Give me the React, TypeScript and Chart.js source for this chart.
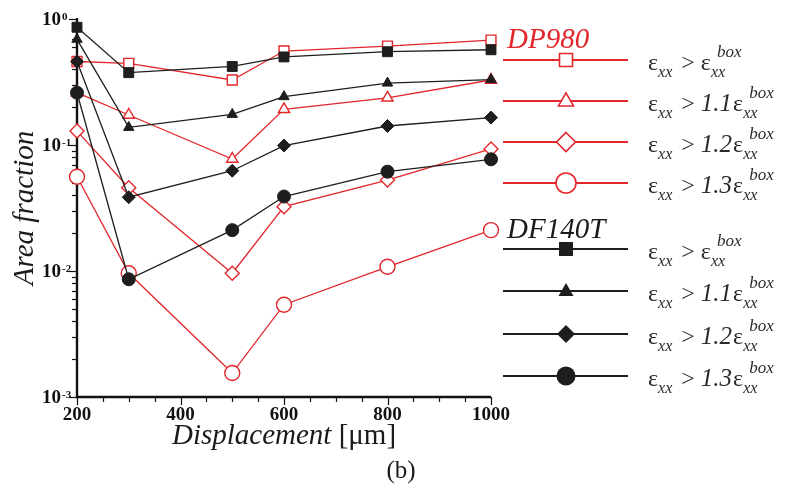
import React, { useEffect, useRef } from 'react';
import { Chart, registerables } from 'chart.js';

Chart.register(...registerables);

const displacement = [200, 300, 500, 600, 800, 1000];
const df140tGt10 = [0.86, 0.375, 0.42, 0.5, 0.55, 0.57];
const df140tGt11 = [0.69, 0.138, 0.175, 0.242, 0.31, 0.33];
const df140tGt12 = [0.46, 0.0385, 0.0625, 0.099, 0.1415, 0.165];
const df140tGt13 = [0.26, 0.0086, 0.0211, 0.039, 0.0614, 0.077];
const dp980Gt10 = [0.46, 0.445, 0.328, 0.557, 0.61, 0.68];
const dp980Gt11 = [0.26, 0.173, 0.0774, 0.192, 0.237, 0.328];
const dp980Gt12 = [0.129, 0.0458, 0.0096, 0.0324, 0.0527, 0.093];
const dp980Gt13 = [0.056, 0.0096, 0.00155, 0.0054, 0.0108, 0.0211];

const xTicks = [200, 400, 600, 800, 1000];
const yDecades = [1, 0.1, 0.01, 0.001];
const yExponents = ['0', '-1', '-2', '-3'];
const legendFactors = ['', '1.1', '1.2', '1.3'];
const groupNames = ['DP980', 'DF140T'];

const RED = '#e2262b';
const BLACK = '#1e1e1e';
const SERIF = '"Liberation Serif", "Times New Roman", serif';

const pts = (ys: number[]) => displacement.map((x, i) => ({ x, y: ys[i] }));

type Shape = 'rect' | 'triangle' | 'rectRot' | 'circle';
const shapes: Shape[] = ['rect', 'triangle', 'rectRot', 'circle'];

function drawShape(ctx: CanvasRenderingContext2D, shape: Shape, x: number, y: number, s: number, filled: boolean, color: string) {
  ctx.save();
  ctx.beginPath();
  if (shape === 'rect') {
    ctx.rect(x - s / 2, y - s / 2, s, s);
  } else if (shape === 'triangle') {
    const h = s * 0.866;
    ctx.moveTo(x, y - h * 0.62);
    ctx.lineTo(x + s / 2, y + h * 0.38);
    ctx.lineTo(x - s / 2, y + h * 0.38);
    ctx.closePath();
  } else if (shape === 'rectRot') {
    ctx.moveTo(x, y - s / 2);
    ctx.lineTo(x + s / 2, y);
    ctx.lineTo(x, y + s / 2);
    ctx.lineTo(x - s / 2, y);
    ctx.closePath();
  } else {
    ctx.arc(x, y, s / 2, 0, Math.PI * 2);
  }
  if (filled) {
    ctx.fillStyle = color;
    ctx.fill();
  } else {
    ctx.fillStyle = '#fff';
    ctx.fill();
    ctx.strokeStyle = color;
    ctx.lineWidth = 1.6;
    ctx.stroke();
  }
  ctx.restore();
}

function drawCriterion(ctx: CanvasRenderingContext2D, x: number, row: number, factor: string) {
  const base = row + 10;
  ctx.save();
  ctx.fillStyle = '#2a2a2a';
  ctx.textAlign = 'left';
  ctx.textBaseline = 'alphabetic';
  ctx.font = `24px ${SERIF}`;
  ctx.fillText('ε', x, base);
  let cx = x + ctx.measureText('ε').width;
  ctx.font = `italic 16px ${SERIF}`;
  ctx.fillText('xx', cx, base + 7);
  cx += ctx.measureText('xx').width + 9;
  ctx.font = `24px ${SERIF}`;
  ctx.fillText('>', cx, base);
  cx += ctx.measureText('>').width + 6;
  if (factor) {
    ctx.font = `italic 25px ${SERIF}`;
    ctx.fillText(factor, cx, base);
    cx += ctx.measureText(factor).width + 1;
  }
  ctx.font = `24px ${SERIF}`;
  ctx.fillText('ε', cx, base);
  cx += ctx.measureText('ε').width;
  ctx.font = `italic 16px ${SERIF}`;
  ctx.fillText('xx', cx, base + 7);
  ctx.font = `italic 17px ${SERIF}`;
  ctx.fillText('box', cx + 6, base - 13);
  ctx.restore();
}

const framePlugin = {
  id: 'frame',
  beforeDatasetsDraw(chart: any) {
    const ctx: CanvasRenderingContext2D = chart.ctx;
    const xs = chart.scales.x;
    const ys = chart.scales.y;
    const { left, right, top, bottom } = chart.chartArea;
    ctx.save();
    ctx.strokeStyle = '#111';
    ctx.lineWidth = 1.2;
    for (let v = 200; v <= 1000; v += 50) {
      const px = Math.round(xs.getPixelForValue(v)) + 0.5;
      const major = v % 200 === 0;
      ctx.beginPath();
      ctx.moveTo(px, bottom);
      ctx.lineTo(px, bottom + (major ? 8 : 5));
      ctx.stroke();
    }
    for (let d = 0; d < yDecades.length; d++) {
      const dec = yDecades[d];
      for (let m = 1; m <= 9; m++) {
        const v = dec * m;
        if (v > 1.0001) continue;
        const py = Math.round(ys.getPixelForValue(v)) + 0.5;
        ctx.beginPath();
        ctx.moveTo(left, py);
        ctx.lineTo(left - (m === 1 ? 8 : 5), py);
        ctx.stroke();
      }
    }
    ctx.lineWidth = 2.4;
    ctx.beginPath();
    ctx.moveTo(left, top - 1);
    ctx.lineTo(left, bottom);
    ctx.lineTo(right, bottom);
    ctx.stroke();
    ctx.restore();
  },
  afterDraw(chart: any) {
    const ctx: CanvasRenderingContext2D = chart.ctx;
    const xs = chart.scales.x;
    const ys = chart.scales.y;
    const { left } = chart.chartArea;
    ctx.save();
    ctx.fillStyle = '#111';
    ctx.font = `bold 19px ${SERIF}`;
    ctx.textAlign = 'center';
    ctx.textBaseline = 'alphabetic';
    xTicks.forEach((v) => ctx.fillText(String(v), xs.getPixelForValue(v), 420));
    yDecades.forEach((v, i) => {
      const py = ys.getPixelForValue(v);
      ctx.font = `bold 19px ${SERIF}`;
      ctx.textAlign = 'right';
      ctx.fillText('10', left - 16, py + 6);
      ctx.font = `bold 11px ${SERIF}`;
      ctx.textAlign = 'left';
      ctx.fillText(yExponents[i], left - 15, py + 1);
    });
    ctx.fillStyle = '#1a1a1a';
    ctx.save();
    ctx.translate(33, 208);
    ctx.rotate(-Math.PI / 2);
    ctx.font = `italic 29px ${SERIF}`;
    ctx.textAlign = 'center';
    ctx.fillText('Area fraction', 0, 0);
    ctx.restore();
    ctx.font = `italic 29px ${SERIF}`;
    const t1 = 'Displacement ';
    const w1 = ctx.measureText(t1).width;
    ctx.font = `29px ${SERIF}`;
    const t2 = '[μm]';
    const w2 = ctx.measureText(t2).width;
    const sx = 284 - (w1 + w2) / 2;
    ctx.textAlign = 'left';
    ctx.font = `italic 29px ${SERIF}`;
    ctx.fillText(t1, sx, 444);
    ctx.font = `29px ${SERIF}`;
    ctx.fillText(t2, sx + w1, 444);
    ctx.font = `25px ${SERIF}`;
    ctx.textAlign = 'center';
    ctx.fillText('(b)', 401, 478);

    const groups = [
      { name: groupNames[0], color: RED, filled: false, titleY: 48, rows: [60, 101, 142, 183], sizes: [13, 15, 19, 20] },
      { name: groupNames[1], color: BLACK, filled: true, titleY: 238, rows: [249, 291, 334, 376], sizes: [14, 15, 18, 19] },
    ];
    groups.forEach((g) => {
      ctx.font = `italic 29px ${SERIF}`;
      ctx.textAlign = 'left';
      ctx.fillStyle = g.color === RED ? RED : '#1a1a1a';
      ctx.fillText(g.name, 507, g.titleY);
      g.rows.forEach((ry, k) => {
        ctx.strokeStyle = g.color;
        ctx.lineWidth = 2;
        ctx.beginPath();
        ctx.moveTo(503, ry);
        ctx.lineTo(628, ry);
        ctx.stroke();
        drawShape(ctx, shapes[k], 566, ry, g.sizes[k], g.filled, g.color);
        drawCriterion(ctx, 648, ry, legendFactors[k]);
      });
    });
    ctx.restore();
  },
};

function ds(label: string, ys: number[], shape: Shape, filled: boolean, color: string, radius: number) {
  return {
    label,
    data: pts(ys),
    borderColor: color,
    borderWidth: 1.3,
    pointStyle: shape,
    pointRadius: radius,
    pointBackgroundColor: filled ? color : '#fff',
    pointBorderColor: color,
    pointBorderWidth: filled ? 1 : 1.4,
    tension: 0,
    fill: false,
    clip: false,
  };
}

export default function App() {
  const ref = useRef<HTMLCanvasElement>(null);
  useEffect(() => {
    document.body.style.margin = '0';
    const canvas = ref.current;
    if (!canvas) return;
    const chart = new Chart(canvas, {
      type: 'line',
      data: {
        datasets: [
          ds('DF140T > 1.0', df140tGt10, 'rect', true, BLACK, 7),
          ds('DF140T > 1.1', df140tGt11, 'triangle', true, BLACK, 6),
          ds('DF140T > 1.2', df140tGt12, 'rectRot', true, BLACK, 6.5),
          ds('DF140T > 1.3', df140tGt13, 'circle', true, BLACK, 6.5),
          ds('DP980 > 1.0', dp980Gt10, 'rect', false, RED, 7),
          ds('DP980 > 1.1', dp980Gt11, 'triangle', false, RED, 6.5),
          ds('DP980 > 1.2', dp980Gt12, 'rectRot', false, RED, 7),
          ds('DP980 > 1.3', dp980Gt13, 'circle', false, RED, 7.5),
        ] as any,
      },
      options: {
        responsive: false,
        animation: false,
        devicePixelRatio: 1,
        layout: { padding: { left: 77, top: 19, right: 303, bottom: 96 } },
        plugins: { legend: { display: false }, tooltip: { enabled: false } },
        scales: {
          x: { type: 'linear', min: 200, max: 1000, display: false },
          y: { type: 'logarithmic', min: 0.001, max: 1, display: false },
        },
      } as any,
      plugins: [framePlugin],
    });
    return () => chart.destroy();
  }, []);
  return <canvas ref={ref} width={794} height={493} style={{ display: 'block', width: 794, height: 493 }} />;
}
